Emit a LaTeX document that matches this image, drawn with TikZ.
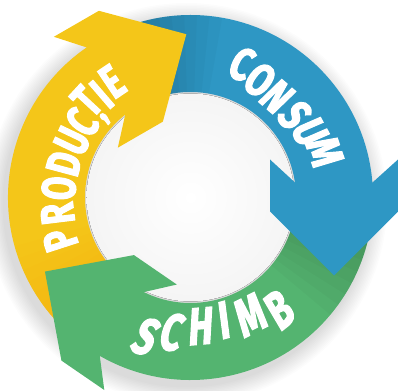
\documentclass[tikz,border=0pt]{standalone}
\usepackage{fontspec}
\newfontfamily\ringfont{Fira Sans}[BoldFeatures={FakeBold=3}]
\definecolor{ringyellow}{HTML}{F4C619}
\definecolor{ringblue}{HTML}{2E97C4}
\definecolor{ringgreen}{HTML}{54B470}
\newcommand{\ringband}[2]{(#1:105.5pt) arc[start angle=#1, end angle=#2, radius=105.5pt] -- (#2:182.5pt) arc[start angle=#2, end angle=#1, radius=182.5pt] -- cycle}

\begin{document}
\begin{tikzpicture}[
    x=1pt, y=1pt,
    letter/.style={text=white, inner sep=0pt, font=\ringfont\bfseries\fontsize{#1}{#1}\selectfont},
    letter/.default=48,
    headtip/.pic={\path[pic actions] (-15,-39) -- (-38,-64) -- (14,-64) -- (78,0) -- (14,64) -- (-38,64) -- (-15,38.5) -- cycle;},
  ]
  \useasboundingbox (-190.5,-192.5) rectangle (207.5,197.5);

  % umbra si interiorul
  \foreach \k [evaluate=\k as \rr using 182.5+1.5*\k] in {1,...,12}
    \fill[black, opacity=0.012] (-4,-6) circle[radius=\rr pt];
  \fill[inner color=white, outer color=black!4] (0,0) circle[radius=104pt];

  % benzile
  \fill[ringyellow] \ringband{235.5}{120};
  \fill[ringblue] \ringband{120}{0};
  \fill[ringgreen] \ringband{0}{-124.5};
  \foreach \k in {1,...,10} {
    \fill[orange, opacity=0.02] \ringband{235.5}{235.5-4*\k};
    \fill[black, opacity=0.022] \ringband{120}{120-4*\k};
    \fill[black, opacity=0.022] \ringband{0}{-4*\k};
  }

  % varfurile
  \pic[fill=ringyellow, rotate=30] at (120:143.5pt) {headtip};
  \pic[fill=ringblue, rotate=-90] at (0:143.5pt) {headtip};
  \pic[fill=ringgreen, rotate=145.5] at (235.5:143.5pt) {headtip};

  % textele
  \foreach \ch/\a/\r [count=\i] in {P/198/137, R/187/134, O/176/132, D/165/131, U/154.5/131, C/145.3/132, Ț/137.2/134, I/130.8/136, E/124/140}
    \node[rotate=\a-90, letter=47, xscale=0.72] (prod\i) at (\a:\r pt) {\ch};
  \foreach \ch/\a/\r [count=\i] in {C/69/143, O/59.4/136.5, N/49.3/133, S/38.3/133, U/28.7/136, M/18.7/142}
    \node[rotate=\a-90, letter=46, xscale=0.76, xslant=0.12] (cons\i) at (\a:\r pt) {\ch};
  \foreach \ch/\a/\r [count=\i] in {S/252.3/146, C/262.2/136, H/274.7/129, I/285.3/127, M/297/131.5, B/308.5/143}
    \node[rotate=\a+90, letter=52, xscale=0.7, xslant=0.2] (schimb\i) at (\a:\r pt) {\ch};
\end{tikzpicture}
\end{document}
